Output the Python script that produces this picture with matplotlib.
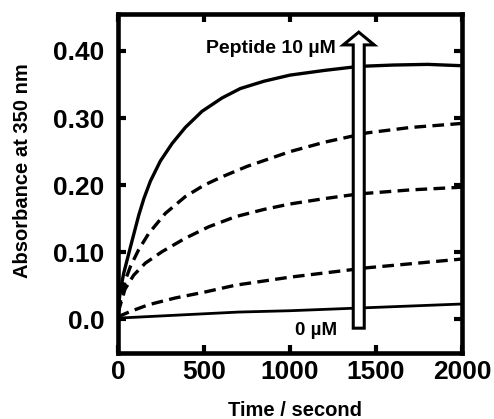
import matplotlib
matplotlib.use("Agg")
import matplotlib.pyplot as plt
from matplotlib.patches import FancyArrow

plt.rcParams['font.family'] = ['Liberation Sans', 'DejaVu Sans']
plt.rcParams['font.weight'] = 'bold'

# time (s) / absorbance
t_top = [0, 14, 33, 72, 120, 150, 188, 246, 314, 391, 488, 605, 711, 850, 1000, 1200, 1400, 1600, 1800, 2000]
a_top = [0.015, 0.044, 0.069, 0.108, 0.155, 0.180, 0.206, 0.236, 0.262, 0.286, 0.310, 0.330, 0.344, 0.355, 0.364, 0.371, 0.377, 0.379, 0.380, 0.378]

t_d3 = [0, 43, 72, 120, 178, 275, 391, 500, 600, 750, 1000, 1200, 1450, 1700, 2000]
a_d3 = [0.012, 0.059, 0.079, 0.104, 0.128, 0.158, 0.183, 0.200, 0.212, 0.228, 0.250, 0.264, 0.278, 0.286, 0.292]

t_d2 = [0, 40, 91, 159, 256, 391, 527, 682, 850, 1000, 1200, 1400, 1700, 2000]
a_d2 = [0.010, 0.045, 0.066, 0.084, 0.101, 0.121, 0.138, 0.153, 0.164, 0.172, 0.180, 0.187, 0.193, 0.197]

t_d1 = [0, 72, 178, 333, 508, 682, 1000, 1450, 2000]
a_d1 = [0.004, 0.012, 0.022, 0.032, 0.041, 0.051, 0.063, 0.077, 0.090]

t_zero = [0, 700, 1000, 1500, 2000]
a_zero = [0.002, 0.011, 0.013, 0.018, 0.023]

xticks = [0, 500, 1000, 1500, 2000]
yticks = [0.0, 0.10, 0.20, 0.30, 0.40]
ytick_labels = ['0.0', '0.10', '0.20', '0.30', '0.40']

fig = plt.figure(figsize=(4.94, 4.19), dpi=100)
ax = fig.add_axes([0.239, 0.1575, 0.696, 0.809])

dash = (0, (3.5, 1.9))
ax.plot(t_top, a_top, color='black', lw=2.4)
ax.plot(t_d3, a_d3, color='black', lw=2.4, linestyle=dash)
ax.plot(t_d2, a_d2, color='black', lw=2.4, linestyle=dash)
ax.plot(t_d1, a_d1, color='black', lw=2.4, linestyle=dash)
ax.plot(t_zero, a_zero, color='black', lw=2.0)

# hollow arrow
arr = FancyArrow(1400, -0.013, 0, 0.441, width=64, head_width=180,
                 head_length=0.019, length_includes_head=True,
                 facecolor='white', edgecolor='black', lw=2.2, zorder=5)
ax.add_patch(arr)

ax.text(1265, 0.403, 'Peptide 10 µM', ha='right', va='center', fontsize=14, fontweight='bold')
ax.text(1273, -0.017, '0 µM', ha='right', va='center', fontsize=13.5, fontweight='bold')

ax.set_xlim(0, 2000)
ax.set_ylim(-0.05, 0.455)
ax.set_xticks(xticks)
ax.set_yticks(yticks)
ax.set_yticklabels(ytick_labels)

for s in ax.spines.values():
    s.set_linewidth(3.3)
ax.tick_params(direction='in', length=5.5, width=3, top=True, right=True,
               labelsize=19)
ax.tick_params(axis='y', pad=10)
ax.tick_params(axis='x', pad=5)

fig.text(295 / 494, 1 - 410 / 419, 'Time / second', ha='center', va='center',
         fontsize=14.5, fontweight='bold')
fig.text(23 / 494, 1 - 171 / 419, 'Absorbance at 350 nm', ha='center', va='center',
         rotation=90, fontsize=14.5, fontweight='bold')

fig.savefig('out.png', dpi=100)
